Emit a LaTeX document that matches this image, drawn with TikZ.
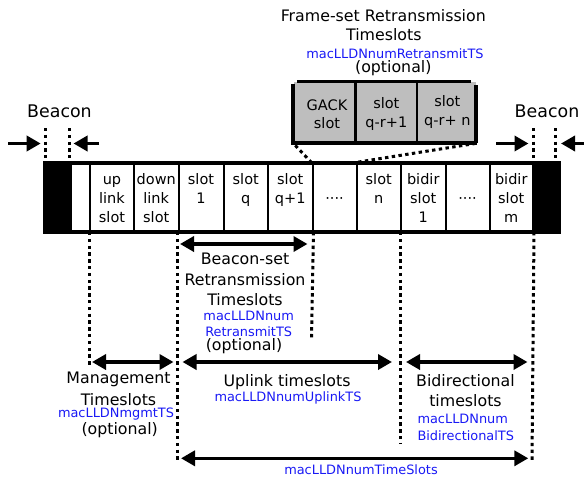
\documentclass[tikz,border=0pt]{standalone}
\usepackage{fontspec}
\setmainfont{DejaVu Sans}
\usetikzlibrary{arrows.meta}
\definecolor{lblue}{RGB}{25,25,245}
\definecolor{boxgrey}{RGB}{190,190,190}
\tikzset{
  cell/.style={draw=black, line width=2pt, fill=white, minimum height=67.5pt,
               inner sep=0pt, anchor=north west},
  blk/.style={cell, fill=black},
  celltext/.style={anchor=north, align=center, inner sep=0pt,
                   font=\fontsize{14.5}{18.7}\selectfont},
  gtext/.style={anchor=north, align=center, inner sep=0pt,
                font=\fontsize{14.5}{18.3}\selectfont},
  lbl/.style={inner sep=0pt, font=\fontsize{15.8}{20}\selectfont},
  big/.style={inner sep=0pt, font=\fontsize{17.4}{21}\selectfont},
  blue/.style={inner sep=0pt, text=lblue, font=\fontsize{12.9}{16}\selectfont},
  dotline/.style={line width=3pt, dash pattern=on 3.4pt off 3.4pt},
  span/.style={line width=3.5pt, {Triangle[length=14pt,width=15pt]}-{Triangle[length=14pt,width=15pt]}},
  push/.style={line width=3.5pt, -{Triangle[length=14pt,width=15pt]}},
  gcell/.style={fill=boxgrey, minimum height=61pt, inner sep=0pt, anchor=north west},
}
\begin{document}
\begin{tikzpicture}[x=1pt,y=-1pt]
\useasboundingbox (0,0) rectangle (584,479);

% ---- superframe bar ----
\node[blk,  minimum width=26pt]   (blkL) at (44,162.5)    {};
\node[cell, minimum width=19pt]   (gap)  at (70,162.5)    {};
\node[cell, minimum width=44pt]   (up)   at (89,162.5)    {};
\node[cell, minimum width=44.5pt] (down) at (133,162.5)   {};
\node[cell, minimum width=45pt]   (s1)   at (177.5,162.5) {};
\node[cell, minimum width=44.5pt] (sq)   at (222.5,162.5) {};
\node[cell, minimum width=44.5pt] (sq1)  at (267,162.5)   {};
\node[cell, minimum width=44pt]   (dA)   at (311.5,162.5) {};
\node[cell, minimum width=44.5pt] (sn)   at (355.5,162.5) {};
\node[cell, minimum width=44.5pt] (b1)   at (400,162.5)   {};
\node[cell, minimum width=44pt]   (dB)   at (444.5,162.5) {};
\node[cell, minimum width=43.5pt] (bm)   at (488.5,162.5) {};
\node[blk,  minimum width=25pt]   (blkR) at (532,162.5)   {};
\draw[line width=3pt] (blkL.north west) rectangle (blkR.south east);

\node[celltext] (tup)   at (up.center   |- 0,171.4) {\strut up\\link\\slot};
\node[celltext] (tdown) at (down.center |- 0,171.4) {\strut down\\link\\slot};
\node[celltext] (ts1)   at (s1.center   |- 0,171.4) {\strut slot\\1};
\node[celltext] (tsq)   at (sq.center   |- 0,171.4) {\strut slot\\q};
\node[celltext] (tsq1)  at (sq1.center  |- 0,171.4) {\strut slot\\q+1};
\node[celltext] (tdA)   at (dA.center   |- 0,171.4) {\strut\\····};
\node[celltext] (tsn)   at (sn.center   |- 0,171.4) {\strut slot\\n};
\node[celltext] (tb1)   at (b1.center   |- 0,171.4) {\strut bidir\\slot\\1};
\node[celltext] (tdB)   at (dB.center   |- 0,171.4) {\strut\\····};
\node[celltext] (tbm)   at (bm.center   |- 0,171.4) {\strut bidir\\slot\\m};

% ---- beacon markers ----
\node[big] (beaconL) at (59.5,111) {Beacon};
\node[big] (beaconR) at (547,111) {Beacon};
\coordinate (bl1) at (45,128);  \coordinate (bl2) at (69,128);
\coordinate (br1) at (533,128); \coordinate (br2) at (555.7,128);
\draw[dotline] (bl1) -- (bl1 |- 0,158);
\draw[dotline] (bl2) -- (bl2 |- 0,158);
\draw[dotline] (br1) -- (br1 |- 0,158);
\draw[dotline] (br2) -- (br2 |- 0,158);
\coordinate (aL1) at (8,143.5);   \coordinate (aL2) at (40.7,143.5);
\coordinate (aL3) at (99,143.5);  \coordinate (aL4) at (73.5,143.5);
\coordinate (aR1) at (496,143.5); \coordinate (aR2) at (528.5,143.5);
\coordinate (aR3) at (592,143.5); \coordinate (aR4) at (561,143.5);
\draw[push] (aL1) -- (aL2);
\draw[push] (aL3) -- (aL4);
\draw[push] (aR1) -- (aR2);
\draw[push] (aR3) -- (aR4);

% ---- frame-set retransmission slots ----
\node[lbl]  (fsT1) at (383.3,16)   {Frame-set Retransmission};
\node[lbl]  (fsT2) at (383.8,35)   {Timeslots};
\node[blue] (fsB)  at (395,53.3)   {macLLDNnumRetransmitTS};
\node[lbl]  (fsO)  at (393.3,68.3) {(optional)};
\node[gcell, minimum width=62pt] (gack) at (293.3,82) {};
\node[gcell, minimum width=61.7pt] (gq1)  at (355.3,82) {};
\node[gcell, minimum width=58.3pt] (gqn)  at (417,82) {};
\node[gtext] at ([xshift=2.5pt]gack.center |- 0,97.5) {\strut GACK\\slot};
\node[gtext] at (gq1.center |- 0,95.7) {\strut slot\\q-r+1};
\node[gtext] at ([xshift=1pt]gqn.center |- 0,93.7) {\strut slot\\q-r+ n};
\draw[line width=3pt] ([xshift=3.5pt,yshift=1pt]gack.north west)
      -- ([xshift=-5pt,yshift=1pt]gqn.north east);
\draw[line width=4pt] ([yshift=-1.5pt]gack.north west) -- (gack.south west)
      -- ([xshift=1.5pt]gqn.south east);
\draw[line width=4pt] ([yshift=-3pt]gqn.north east) -- (gqn.south east);
\draw[line width=2.5pt] (gq1.north west) -- (gq1.south west);
\draw[line width=2.5pt] (gqn.north west) -- (gqn.south west);
\draw[dotline] ([xshift=2pt,yshift=-2pt]gack.south west) -- ([xshift=-2pt]sq1.north east);
\draw[dotline] (gqn.south east) -- (sn.north west);

% ---- dotted boundaries below the bar ----
\coordinate (e1) at (89,365);
\coordinate (e2) at (177.5,462);
\coordinate (e3) at (311.5,340);
\coordinate (e4) at (400,443);
\coordinate (e5) at (532,460);
\draw[dotline] (up.south west) -- (e1);
\draw[dotline] (s1.south west) -- (e2);
\draw[dotline] (sq1.south east) -- (e3);
\draw[dotline] (b1.south west) -- (e4);
\draw[dotline] (bm.south east) -- (e5);

% ---- beacon-set retransmission span ----
\coordinate (r1) at (180,244); \coordinate (r2) at (307.5,244);
\draw[span] (r1) -- (r2);
\node[lbl]  (rsT1) at (245,259.3)   {Beacon-set};
\node[lbl]  (rsT2) at (245,279.3)   {Retransmission};
\node[lbl]  (rsT3) at (245,299.3)   {Timeslots};
\node[blue] (rsB1) at (248.7,316)   {macLLDNnum};
\node[blue] (rsB2) at (248.7,331.7) {RetransmitTS};
\node[lbl]  (rsO)  at (244,346)     {(optional)};

% ---- management / uplink / bidirectional spans ----
\coordinate (m1) at (92,362);    \coordinate (m2) at (173.5,362);
\coordinate (u1) at (182.5,362); \coordinate (u2) at (392,362);
\coordinate (d1) at (406,362);   \coordinate (d2) at (527.5,362);
\draw[span] (m1) -- (m2);
\draw[span] (u1) -- (u2);
\draw[span] (d1) -- (d2);

\node[lbl]  (mgT1) at (118.5,379.3) {Management};
\node[lbl]  (mgT2) at (118.5,399.3) {Timeslots};
\node[blue] (mgB)  at (116,414)     {macLLDNmgmtTS};
\node[lbl]  (mgO)  at (119.7,430)   {(optional)};

\node[lbl]  (upT) at (287,382.5) {Uplink timeslots};
\node[blue] (upB) at (288,398)   {macLLDNnumUplinkTS};

\node[lbl]  (biT1) at (465.5,380.7) {Bidirectional};
\node[lbl]  (biT2) at (465.5,400.7) {timeslots};
\node[blue, anchor=west] (biB1) at (417.3,419.3) {macLLDNnum};
\node[blue, anchor=west] (biB2) at (417.3,435.7) {BidirectionalTS};

% ---- whole frame span ----
\coordinate (t1) at (181,458.3); \coordinate (t2) at (528.3,458.3);
\draw[span] (t1) -- (t2);
\node[blue] (tsB) at (361,469.3) {macLLDNnumTimeSlots};
\end{tikzpicture}
\end{document}
